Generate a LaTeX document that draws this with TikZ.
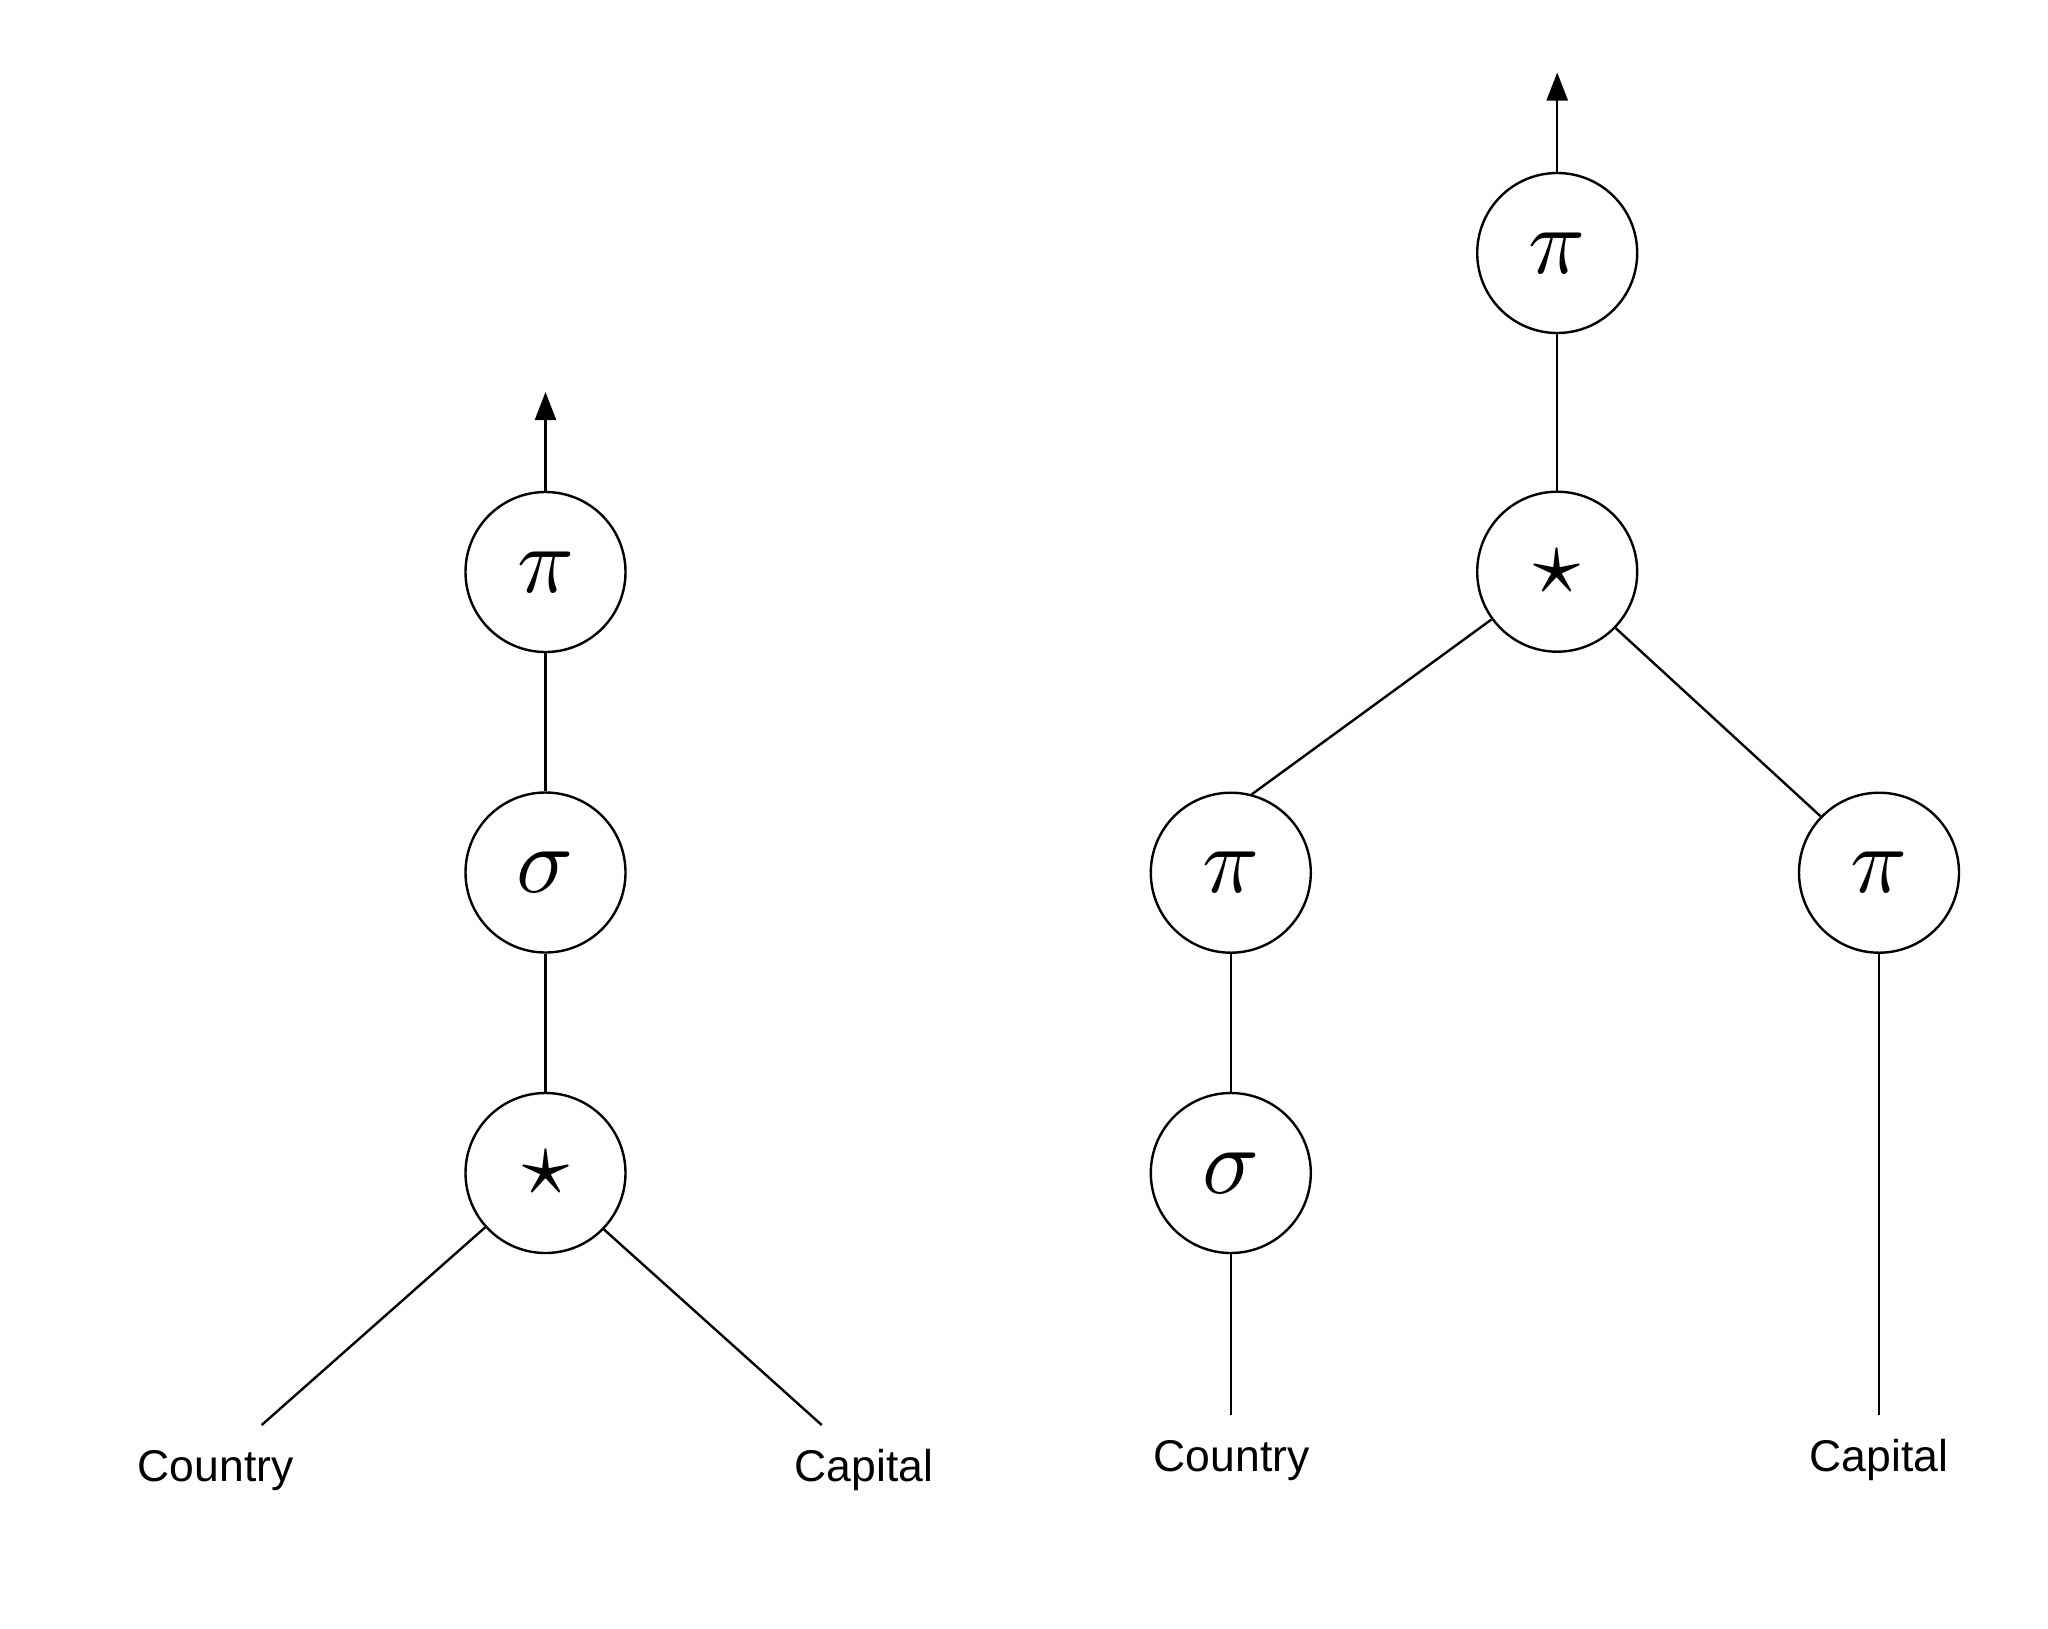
\documentclass[tikz,border=0pt]{standalone}
\usepackage{graphicx}
\usepackage{fontspec}
\setsansfont{Liberation Sans}
\usetikzlibrary{arrows.meta}
\newcommand\opsym[1]{\scalebox{9.4}{$#1$}}
\tikzset{
  op/.style={circle,draw,line width=2.4pt,minimum size=160pt,inner sep=0pt},
  edge/.style={line width=2.4pt},
  up/.style={line width=2.4pt,-{Triangle[length=28pt,width=21pt]}},
  rel/.style={anchor=base,inner sep=0pt,font=\sffamily\fontsize{44.5}{44.5}\selectfont}
}
\begin{document}
\begin{tikzpicture}[x=1pt,y=-1pt]
\useasboundingbox[fill=white] (0,0) rectangle (2048,1628);
% left tree
\node[op] (lpi) at (545.5,572) {\opsym{\pi}};
\node[op] (lsig) at (545.5,872.5) {\opsym{\sigma}};
\node[op] (lstar) at (545.5,1173) {\opsym{\star}};
\coordinate (ltip) at (545.5,392);
\coordinate (lca) at (261.7,1425);
\coordinate (lcb) at (821.7,1425);
\node[rel] (lcountry) at (215.7,1481.7) {Country};
\node[rel] (lcapital) at (864,1481.7) {Capital};
\draw[up] (lpi.north) -- (ltip);
\draw[edge] (lpi) -- (lsig);
\draw[edge] (lsig) -- (lstar);
\draw[edge] (lstar.222.4) -- (lca);
\draw[edge] (lstar.316.6) -- (lcb);
% right tree
\node[op] (rpi) at (1557.2,253) {\opsym{\pi}};
\node[op] (rstar) at (1557.2,571.7) {\opsym{\star}};
\node[op] (rpil) at (1230.8,872.7) {\opsym{\pi}};
\node[op] (rsig) at (1230.8,1173) {\opsym{\sigma}};
\node[op] (rpir) at (1879,872.7) {\opsym{\pi}};
\coordinate (rtip) at (1557.2,72.5);
\coordinate (rca) at (1230.8,1415);
\coordinate (rcb) at (1879,1415);
\node[rel] (rcountry) at (1231.7,1471.7) {Country};
\node[rel] (rcapital) at (1879,1471.7) {Capital};
\draw[up] (rpi.north) -- (rtip);
\draw[edge] (rpi) -- (rstar);
\draw[edge] (rstar.216.5) -- (rpil.75.1);
\draw[edge] (rstar.316.4) -- (rpir.136.5);
\draw[edge] (rpil) -- (rsig);
\draw[edge] (rsig.south) -- (rca);
\draw[edge] (rpir.south) -- (rcb);
\end{tikzpicture}
\end{document}
